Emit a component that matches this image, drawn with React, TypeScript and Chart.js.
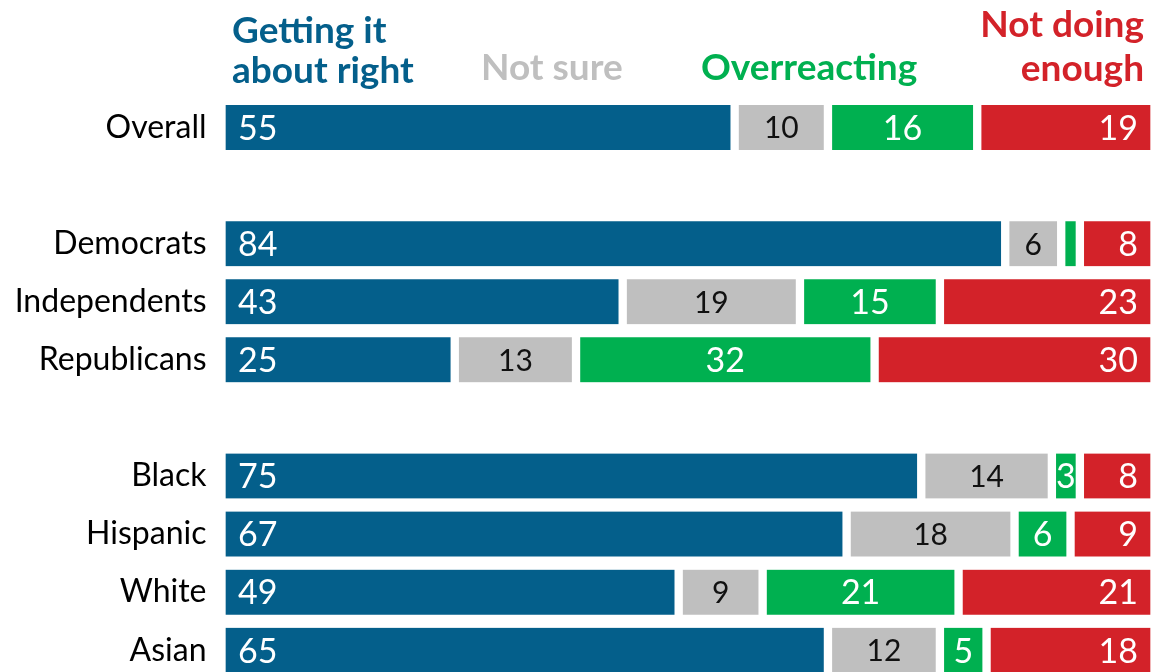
import React, { useEffect, useRef } from "react";
import { Chart, registerables } from "chart.js";

Chart.register(...registerables);

const categories = ["Overall", "", "Democrats", "Independents", "Republicans", "", "Black", "Hispanic", "White", "Asian"];
const gettingItRight = [55, null, 84, 43, 25, null, 75, 67, 49, 65];
const notSure = [10, null, 6, 19, 13, null, 14, 18, 9, 12];
const overreacting = [16, null, 2, 15, 32, null, 3, 6, 21, 5];
const notDoingEnough = [19, null, 8, 23, 30, null, 8, 9, 21, 18];
const seriesNames = ["Getting it about right", "Not sure", "Overreacting", "Not doing enough"];
const headerLines = [["Getting it", "about right"], ["Not sure"], ["Overreacting"], ["Not doing", "enough"]];

const BLUE = "#045f8b";
const GRAY = "#bfbfbf";
const GREEN = "#00b050";
const RED = "#d32229";
const FONT = "Lato";
const GAP = 4.5;

const headerPlugin = {
  id: "headerPlugin",
  afterDraw(chart: any) {
    const ctx = chart.ctx;
    ctx.save();
    ctx.textBaseline = "alphabetic";
    ctx.font = `bold 37px ${FONT}`;
    ctx.fillStyle = BLUE;
    ctx.textAlign = "left";
    ctx.fillText(headerLines[0][0], 232, 43);
    ctx.fillText(headerLines[0][1], 232, 83);
    ctx.fillStyle = GRAY;
    ctx.fillText(headerLines[1][0], 481, 80);
    ctx.fillStyle = GREEN;
    ctx.fillText(headerLines[2][0], 701, 80);
    ctx.fillStyle = RED;
    ctx.textAlign = "right";
    ctx.fillText(headerLines[3][0], 1144, 37);
    ctx.fillText(headerLines[3][1], 1144, 81);
    ctx.restore();
  },
};

const valueLabelPlugin = {
  id: "valueLabelPlugin",
  afterDatasetsDraw(chart: any) {
    const ctx = chart.ctx;
    ctx.save();
    ctx.textBaseline = "alphabetic";
    chart.data.datasets.forEach((ds: any, d: number) => {
      const meta = chart.getDatasetMeta(d);
      meta.data.forEach((el: any, i: number) => {
        const v = ds.data[i];
        if (v == null || v < 3) return;
        const p = el.getProps(["x", "base", "y"], true);
        const left = Math.min(p.x, p.base) + GAP;
        const right = Math.max(p.x, p.base) - GAP;
        let size = 34;
        if (d === 1) {
          size = 30;
          ctx.fillStyle = "#111111";
        } else {
          ctx.fillStyle = "#ffffff";
        }
        ctx.font = `normal ${size}px ${FONT}`;
        const yb = p.y + size * 0.36;
        if (d === 0) {
          ctx.textAlign = "left";
          ctx.fillText(String(v), left + 12, yb);
        } else if (d === 3) {
          ctx.textAlign = "right";
          ctx.fillText(String(v), right - 12, yb);
        } else {
          ctx.textAlign = "center";
          ctx.fillText(String(v), (left + right) / 2, yb);
        }
      });
    });
    ctx.restore();
  },
};

export default function App() {
  const ref = useRef<HTMLCanvasElement | null>(null);
  useEffect(() => {
    if (!ref.current) return;
    const mk = (label: string, data: (number | null)[], color: string) => ({
      label,
      data,
      backgroundColor: color,
      borderColor: "#ffffff",
      borderWidth: { left: GAP, right: GAP, top: 0, bottom: 0 },
      borderSkipped: false,
      barThickness: 45,
    });
    const chart = new Chart(ref.current, {
      type: "bar",
      data: {
        labels: categories,
        datasets: [
          mk(seriesNames[0], gettingItRight, BLUE),
          mk(seriesNames[1], notSure, GRAY),
          mk(seriesNames[2], overreacting, GREEN),
          mk(seriesNames[3], notDoingEnough, RED),
        ] as any,
      },
      options: {
        indexAxis: "y",
        animation: false,
        responsive: false,
        devicePixelRatio: 1,
        layout: { padding: { top: 98.5, right: 5.5, bottom: 40.7, left: 0 } },
        plugins: { legend: { display: false }, tooltip: { enabled: false } },
        scales: {
          x: { type: "linear", min: 0, max: 100, stacked: true, display: false },
          y: {
            type: "category",
            stacked: true,
            grid: { display: false, drawTicks: false },
            border: { display: false },
            ticks: {
              autoSkip: false,
              padding: 15,
              color: "#000000",
              font: { family: FONT, size: 32 },
            },
            afterFit(scale: any) {
              scale.width = 221.5;
            },
          },
        },
      } as any,
      plugins: [valueLabelPlugin, headerPlugin],
    });
    return () => chart.destroy();
  }, []);
  return (
    <div style={{ position: "fixed", left: 0, top: 0, width: 1153, height: 672, overflow: "hidden", background: "#fff" }}>
      <canvas ref={ref} width={1160} height={720} style={{ display: "block" }} />
    </div>
  );
}
